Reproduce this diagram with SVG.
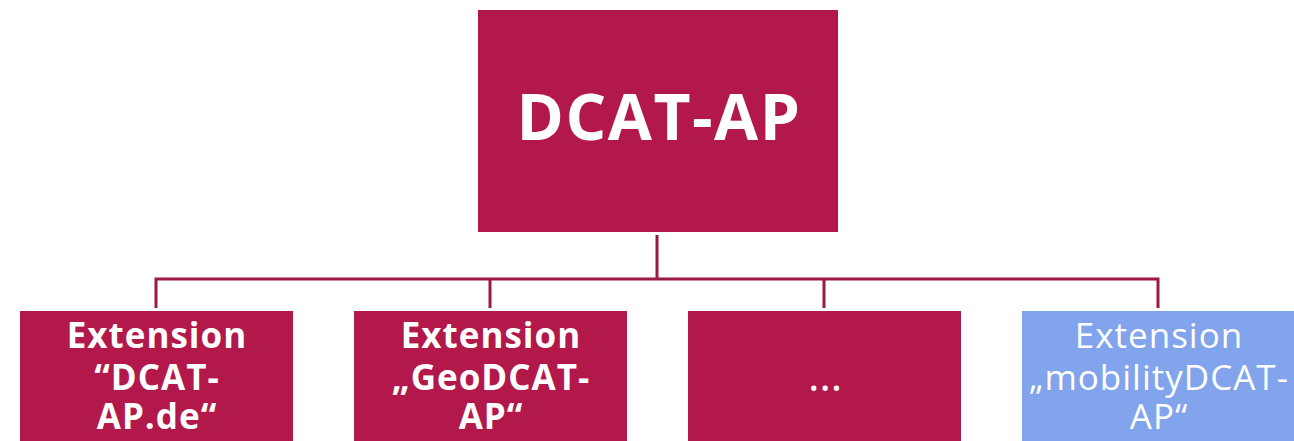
<svg xmlns="http://www.w3.org/2000/svg" width="1294" height="441" viewBox="0 0 1294 441">
<style>
.box{fill:#b3184a}
.blue{fill:#81a4ec}
.t{font-family:"Open Sans",Lato,"Liberation Sans",sans-serif;fill:#fff;text-anchor:middle}
.b{font-weight:bold;font-size:35px;letter-spacing:1px}
.r{font-weight:normal;font-size:35px;letter-spacing:1px}
.conn{stroke:#9b1a45;stroke-width:3;fill:none}
</style>
<rect width="1294" height="441" fill="#fff"/>
<g id="connectors">
<path class="conn" d="M657 235V279M156 308V279H1158V308M490 279V308M824 279V308"/>
</g>
<g id="dcat-ap">
<rect class="box" x="478" y="10" width="360" height="222"/>
<text class="t" x="659" y="140" font-size="64" font-weight="bold" letter-spacing="1.5">DCAT-AP</text>
</g>
<g id="ext-dcat-ap-de">
<rect class="box" x="20" y="311" width="273" height="140"/>
<text class="t b" x="157" y="348">Extension</text>
<text class="t b" x="157" y="390">“DCAT-</text>
<text class="t b" x="157" y="429">AP.de“</text>
</g>
<g id="ext-geodcat-ap">
<rect class="box" x="354" y="311" width="273" height="140"/>
<text class="t b" x="491" y="348">Extension</text>
<text class="t b" x="491" y="390">„GeoDCAT-</text>
<text class="t b" x="491" y="429">AP“</text>
</g>
<g id="ext-more">
<rect class="box" x="688" y="311" width="273" height="140"/>
<text class="t" x="825" y="391" font-size="44">…</text>
</g>
<g id="ext-mobilitydcat-ap">
<rect class="blue" x="1022" y="311" width="274" height="140"/>
<text class="t r" x="1159" y="348">Extension</text>
<text class="t r" x="1159" y="390">„mobilityDCAT-</text>
<text class="t r" x="1159" y="429">AP“</text>
</g>
</svg>
